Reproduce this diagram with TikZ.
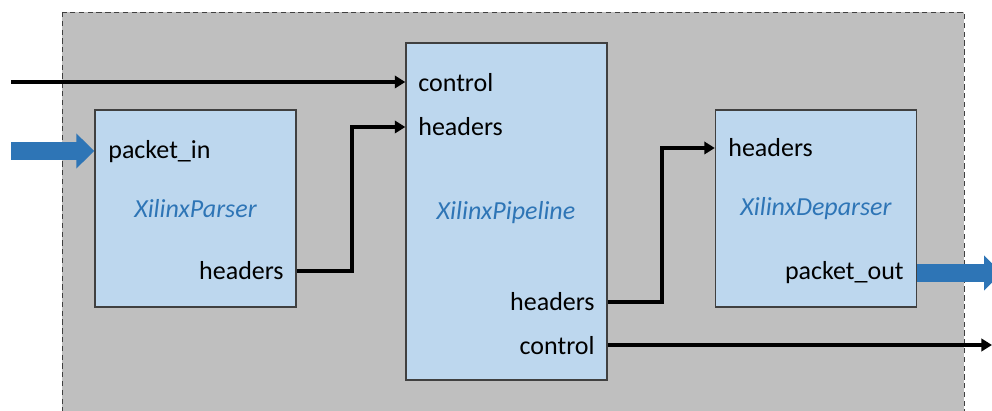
\documentclass[tikz,border=0pt]{standalone}
\usepackage{fontspec}
\setmainfont{Carlito}
\usetikzlibrary{arrows.meta,positioning}
\definecolor{blockfill}{HTML}{BDD7EE}
\definecolor{blockline}{HTML}{404040}
\definecolor{areafill}{HTML}{BFBFBF}
\definecolor{busblue}{HTML}{2E75B6}
\begin{document}
\begin{tikzpicture}[x=0.02cm,y=-0.02cm,
    font=\fontsize{14.8}{17}\selectfont,
    block/.style={draw=blockline,fill=blockfill,line width=0.8pt,
      minimum width=4.02cm,inner sep=0},
    port/.style={inner sep=0},
    title/.style={text=busblue,font=\fontsize{14.8}{17}\selectfont\itshape},
    wire/.style={line width=2pt,-{Triangle[length=6pt,width=7pt]}},
    bus/.style={line width=0.36cm,draw=busblue,
      -{Triangle[length=0.36cm,width=0.68cm]}}]
  \clip (0,0) rectangle (992,411);
  % surrounding area
  \draw[fill=areafill,draw=blockline,dashed,dash pattern=on 3pt off 2pt,line width=0.5pt]
    (62,12) rectangle (964,430);
  % blocks
  \node[block,minimum height=3.94cm] (parser) at (195.5,208.5) {};
  \node[block,minimum height=6.74cm] (pipe) at (506.5,211.5) {};
  \node[block,minimum height=3.94cm] (deparser) at (816,208.5) {};
  \node[title] (tparser) at (parser.center) {XilinxParser};
  \node[title] (tpipe) at (506,213) {XilinxPipeline};
  \node[title] (tdeparser) at (deparser.center) {XilinxDeparser};
  % port names
  \node[port,anchor=base west] (pin) at (108,159) {packet\_in};
  \node[port,anchor=base east] (phdr) at (284,280) {headers};
  \node[port,anchor=base west] (ictrl) at (418,92) {control};
  \node[port,anchor=base west] (ihdr) at (418,136) {headers};
  \node[port,anchor=base east] (ohdr) at (595,311) {headers};
  \node[port,anchor=base east] (octrl) at (595,355) {control};
  \node[port,anchor=base west] (dhdr) at (728,157) {headers};
  \node[port,anchor=base east] (pout) at (904,280) {packet\_out};
  % connections
  \coordinate (ctrlin) at (11,82);
  \coordinate (ctrlout) at (992,345);
  \coordinate (pktin) at (11,151);
  \coordinate (pktout) at (1002,273);
  \draw[wire] (ctrlin) -- (ctrlin -| pipe.west);
  \draw[wire] (parser.east |- 0,271) -- (352,271) |- (pipe.west |- 0,127);
  \draw[wire] (pipe.east |- 0,302) -- (662,302) |- (deparser.west |- 0,148);
  \draw[wire] (pipe.east |- ctrlout) -- (ctrlout);
  \draw[bus] (pktin) -- (pktin -| parser.west);
  \draw[bus] (deparser.east |- pktout) -- (pktout);
\end{tikzpicture}
\end{document}
